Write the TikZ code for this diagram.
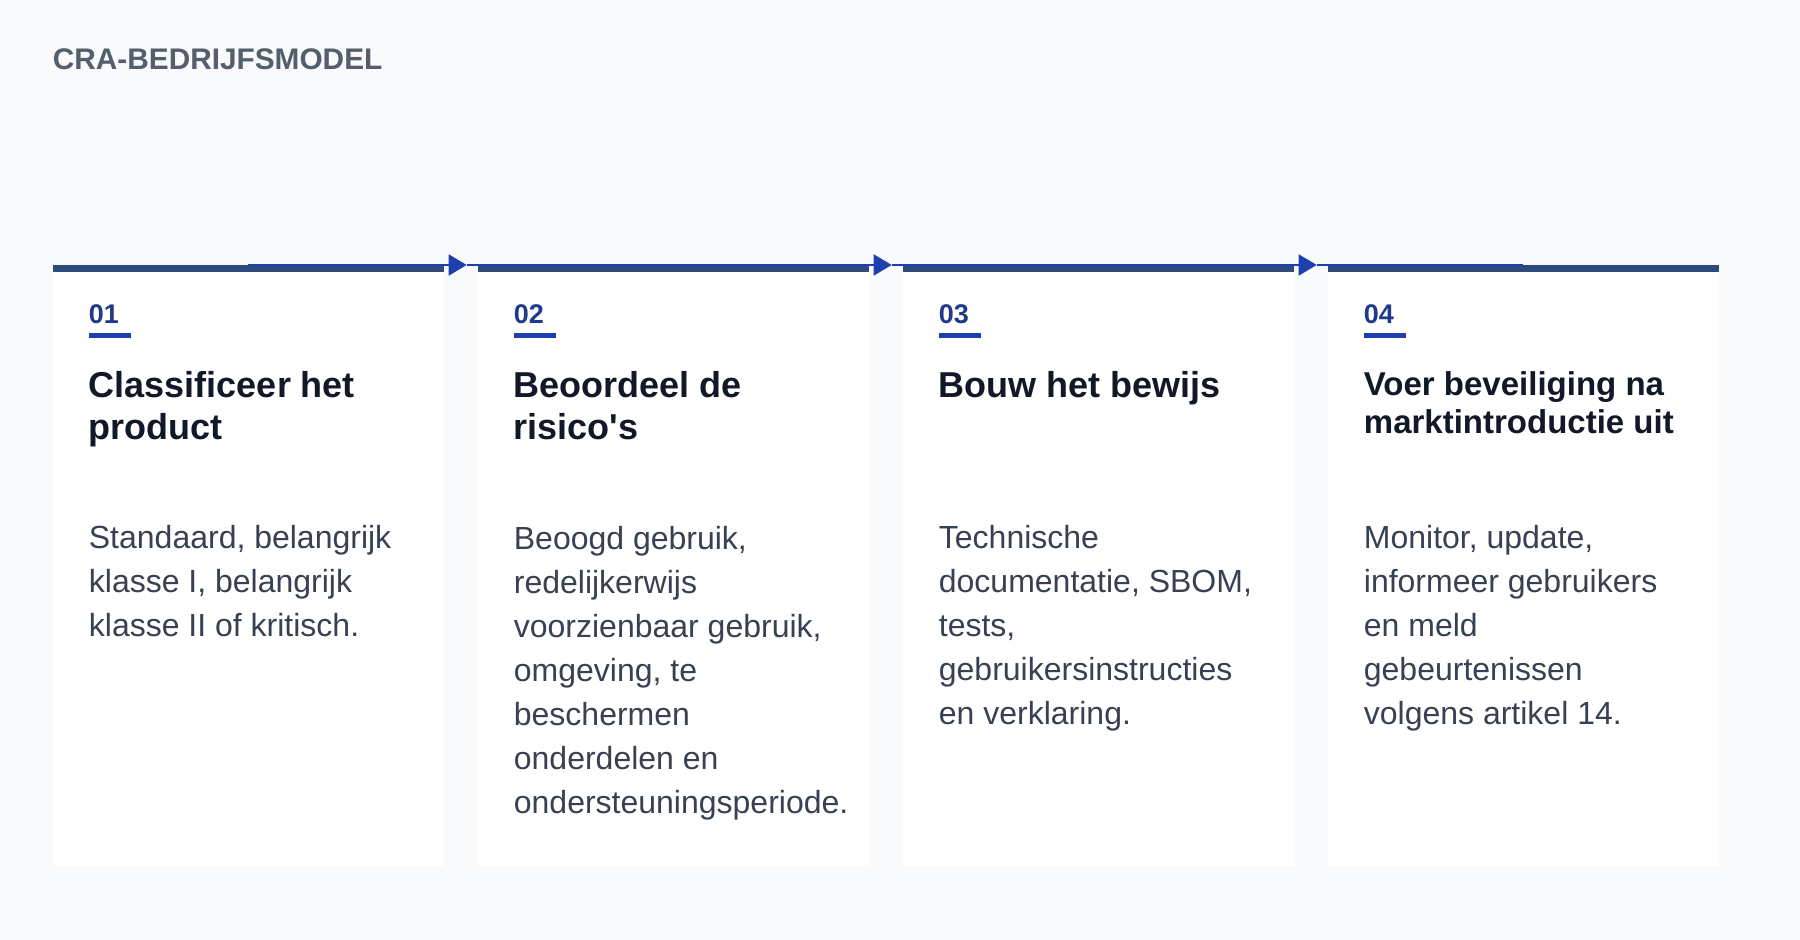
\documentclass[tikz,border=0pt]{standalone}
\usepackage{fontspec}
\setmainfont{Liberation Sans}
\usetikzlibrary{arrows.meta}

\definecolor{pagebg}{RGB}{248,250,252}
\definecolor{topslate}{RGB}{47,75,124}
\definecolor{flowblue}{RGB}{30,64,175}
\definecolor{numblue}{RGB}{30,58,138}
\definecolor{titleink}{RGB}{17,24,39}
\definecolor{bodyink}{RGB}{55,65,81}
\definecolor{headgray}{RGB}{85,95,108}

\tikzset{
  card/.style={rectangle, fill=white, inner sep=0pt, anchor=north west,
    minimum width=195.5pt, minimum height=300.5pt},
  stepnum/.style={anchor=base west, inner sep=0pt, text=numblue,
    font=\fontsize{13.5pt}{16pt}\selectfont\bfseries},
  % meerregelige nodes: base = basislijn van de laatste regel
  steptitle/.style={anchor=base west, inner sep=0pt, align=left, text=titleink,
    font=\fontsize{18pt}{21.2pt}\selectfont\bfseries},
  stepbody/.style={anchor=base west, inner sep=0pt, align=left, text=bodyink,
    font=\fontsize{16pt}{22pt}\selectfont},
  flowline/.style={draw=flowblue, line width=1pt},
  flow/.style={flowline, -{Triangle[length=9pt,width=10.5pt]}},
}

\begin{document}
\begin{tikzpicture}[x=0.5pt, y=-0.5pt]
% achtergrond
\fill[pagebg] (0,0) rectangle (1800,940);
\useasboundingbox (0,0) rectangle (1800,940);

\node[anchor=base west, inner sep=0pt, text=headgray,
  font=\fontsize{14.9pt}{17pt}\selectfont\bfseries] (heading) at (52.5,70) {CRA-BEDRIJFSMODEL};

% Stap 1
\begin{scope}
  \node[card] (card1) at (52.5,265) {};
  \fill[topslate] (card1.north west) rectangle ([yshift=-3.5pt]card1.north east);
  \node[stepnum] (num1) at (88.5,323.5) {01};
  \fill[flowblue] (88.5,333) rectangle (131,338);
  \node[steptitle] (title1) at (88.5,440) {Classificeer het\\product};
  \node[stepbody] (body1) at (88.5,637) {Standaard, belangrijk\\klasse I, belangrijk\\klasse II of kritisch.};
\end{scope}

% Stap 2
\begin{scope}[xshift=212.5pt]
  \node[card] (card2) at (52.5,265) {};
  \fill[topslate] (card2.north west) rectangle ([yshift=-3.5pt]card2.north east);
  \node[stepnum] (num2) at (88.5,323.5) {02};
  \fill[flowblue] (88.5,333) rectangle (131,338);
  \node[steptitle] (title2) at (88.5,440) {Beoordeel de\\risico\textquotesingle s};
  \node[stepbody] (body2) at (88.5,813) {Beoogd gebruik,\\redelijkerwijs\\voorzienbaar gebruik,\\omgeving, te\\beschermen\\onderdelen en\\ondersteuningsperiode.};
\end{scope}

% Stap 3
\begin{scope}[xshift=425pt]
  \node[card] (card3) at (52.5,265) {};
  \fill[topslate] (card3.north west) rectangle ([yshift=-3.5pt]card3.north east);
  \node[stepnum] (num3) at (88.5,323.5) {03};
  \fill[flowblue] (88.5,333) rectangle (131,338);
  \node[steptitle] (title3) at (88.5,397.5) {Bouw het bewijs};
  \node[stepbody] (body3) at (88.5,725) {Technische\\documentatie, SBOM,\\tests,\\gebruikersinstructies\\en verklaring.};
\end{scope}

% Stap 4 (langere titel, iets kleiner)
\begin{scope}[xshift=637.5pt]
  \node[card] (card4) at (52.5,265) {};
  \fill[topslate] (card4.north west) rectangle ([yshift=-3.5pt]card4.north east);
  \node[stepnum] (num4) at (88.5,323.5) {04};
  \fill[flowblue] (88.5,333) rectangle (131,338);
  \node[steptitle, font=\fontsize{16.5pt}{19.2pt}\selectfont\bfseries] (title4) at (88.5,434) {Voer beveiliging na\\marktintroductie uit};
  \node[stepbody] (body4) at (88.5,725) {Monitor, update,\\informeer gebruikers\\en meld\\gebeurtenissen\\volgens artikel 14.};
\end{scope}

% voortgangslijn met pijlen tussen de kaarten
\coordinate (tip12) at ([xshift=-5.4pt]card2.north west);
\coordinate (tip23) at ([xshift=-5.4pt]card3.north west);
\coordinate (tip34) at ([xshift=-5.4pt]card4.north west);
\draw[flow] (card1.north) -- (tip12);
\draw[flow] (tip12) -- (tip23);
\draw[flow] (tip23) -- (tip34);
\draw[flowline] (tip34) -- (card4.north);
\end{tikzpicture}
\end{document}
